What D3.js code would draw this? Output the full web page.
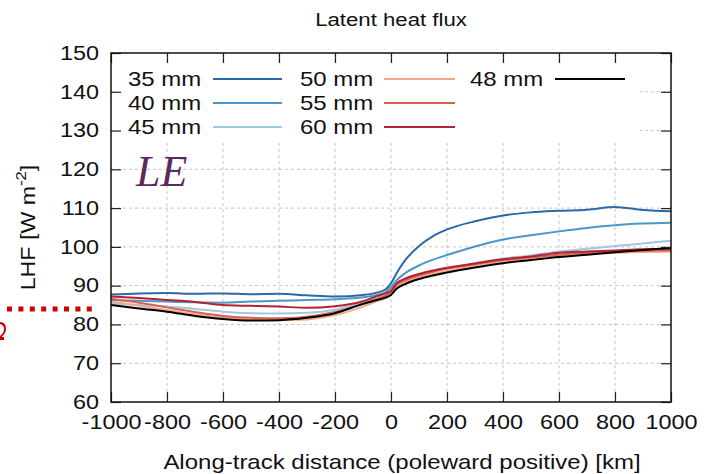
<!DOCTYPE html>
<html><head><meta charset="utf-8">
<script src="https://cdn.jsdelivr.net/npm/d3@7"></script>
<style>
html,body{margin:0;padding:0;background:#fff;}
</style></head>
<body>
<svg id="chart" width="706" height="474"></svg>
<script>
// ---- data ----
const distanceKm = [-1000,-900,-800,-700,-600,-500,-400,-300,-200,-100,-50,-20,0,20,50,100,150,200,300,400,500,600,700,800,900,1000];
const lhf35 = [87.7,88.0,88.1,87.9,88.0,87.8,87.9,87.5,87.2,87.6,88.2,89.0,90.6,93.2,96.5,100.2,102.8,104.5,106.6,108.1,108.9,109.3,109.6,110.3,109.5,109.2];
const lhf40 = [86.3,86.1,85.9,85.7,85.6,85.9,86.1,86.3,86.5,87.0,87.6,88.3,89.6,91.4,93.2,95.2,96.7,97.9,100.1,101.9,103.0,104.0,104.9,105.6,106.0,106.2];
const lhf45 = [85.4,85.0,84.6,84.0,83.3,82.9,82.8,83.0,83.8,85.6,86.7,87.5,88.6,90.0,91.2,92.6,93.6,94.4,95.8,97.0,97.8,98.8,99.5,100.2,100.9,101.6];
const lhf50 = [85.9,84.8,83.7,82.6,81.8,81.3,81.1,81.3,82.4,84.6,86.0,86.8,88.0,89.7,90.8,92.0,93.0,93.8,95.1,96.2,97.0,97.6,98.1,98.5,98.7,98.8];
const lhf55 = [86.6,85.6,84.4,83.2,82.2,81.7,81.6,82.0,83.2,85.3,86.6,87.4,88.4,90.2,91.4,92.6,93.6,94.4,95.5,96.6,97.3,98.0,98.5,98.9,99.0,99.1];
const lhf60 = [87.2,86.8,86.3,85.8,85.0,84.8,84.6,84.3,84.7,86.0,87.3,88.0,88.7,90.6,91.8,93.0,93.9,94.6,95.7,96.8,97.5,98.5,98.8,99.1,99.4,99.5];
const lhf48 = [85.0,84.1,83.3,82.2,81.4,81.0,81.1,81.7,82.9,85.3,86.3,86.9,87.6,89.2,90.4,91.7,92.6,93.4,94.7,95.8,96.6,97.4,98.0,98.6,99.2,99.7];
const seriesNames = ["35 mm","40 mm","45 mm","50 mm","55 mm","60 mm","48 mm"];
const seriesColors = ["#2b69a6","#4b97c9","#9dcae2","#f2a98a","#dc5f4f","#b52033","#000000"];
const xTicks = [-1000,-800,-600,-400,-200,0,200,400,600,800,1000];
const yTicks = [60,70,80,90,100,110,120,130,140,150];
const titleText = "Latent heat flux";
const xTitle = "Along-track distance (poleward positive) [km]";

const seriesValues = [lhf35,lhf40,lhf45,lhf50,lhf55,lhf60,lhf48];

// ---- layout ----
const SANS = '"Liberation Sans", Arial, sans-serif';
const SERIF = '"Liberation Serif", "DejaVu Serif", serif';
const svg = d3.select("#chart");
const L = 111, R = 671, T = 53, B = 402;
const SX = 1.2; // horizontal text stretch
const x = d3.scaleLinear().domain([-1000,1000]).range([L,R]);
const y = d3.scaleLinear().domain([60,150]).range([B,T]);

// grid
const grid = svg.append("g").attr("stroke","#c4c4c4").attr("stroke-width",1).attr("stroke-dasharray","3,3");
xTicks.slice(1,-1).forEach(t=>grid.append("line").attr("x1",x(t)).attr("x2",x(t)).attr("y1",T).attr("y2",B));
yTicks.slice(1,-1).forEach(t=>grid.append("line").attr("x1",L).attr("x2",R).attr("y1",y(t)).attr("y2",y(t)));

// lines
const line = d3.line().x((d,i)=>x(distanceKm[i])).y(d=>y(d)).curve(d3.curveMonotoneX);
seriesValues.forEach((vals,k)=>{
  svg.append("path").datum(vals).attr("d",line).attr("fill","none")
    .attr("stroke",seriesColors[k]).attr("stroke-width",2).attr("stroke-linejoin","round");
});

// legend background
svg.append("rect").attr("x",113).attr("y",64).attr("width",527).attr("height",76).attr("fill","#fff");

// legend
const legCols = [{tx:128, lx1:213, lx2:282},{tx:300, lx1:384, lx2:455},{tx:470, lx1:555, lx2:625}];
const legRows = [79,103,127];
const legendLayout = [[0,0],[0,1],[0,2],[1,0],[1,1],[1,2],[2,0]];
seriesNames.forEach((n,k)=>{
  const [c,r] = legendLayout[k];
  const col = legCols[c], ry = legRows[r];
  svg.append("text").attr("transform",`translate(${col.tx},${ry+7}) scale(${SX},1)`)
    .style("font-family",SANS).attr("font-size",20).attr("fill","#111").text(n);
  svg.append("line").attr("x1",col.lx1).attr("x2",col.lx2).attr("y1",ry).attr("y2",ry)
    .attr("stroke",seriesColors[k]).attr("stroke-width",2);
});

// axes
const fmt = d => String(d);
const ax = d3.axisBottom(x).tickValues(xTicks).tickSize(-10).tickPadding(13).tickFormat(fmt);
const gx = svg.append("g").attr("transform",`translate(0,${B})`).call(ax);
const ay = d3.axisLeft(y).tickValues(yTicks).tickSize(-10).tickPadding(10).tickFormat(fmt);
const gy = svg.append("g").attr("transform",`translate(${L},0)`).call(ay);
const at = d3.axisTop(x).tickValues(xTicks).tickSize(-10).tickFormat("");
const gt = svg.append("g").attr("transform",`translate(0,${T})`).call(at);
const ar = d3.axisRight(y).tickValues(yTicks).tickSize(-10).tickFormat("");
const gr = svg.append("g").attr("transform",`translate(${R},0)`).call(ar);
[gx,gy,gt,gr].forEach(g=>{
  g.select(".domain").remove();
  g.selectAll(".tick line").attr("stroke","#222").attr("stroke-width",1.2);
});
[gx,gy].forEach(g=>{
  g.attr("font-family",null).attr("font-size",null);
  g.selectAll("text").style("font-family",SANS).style("font-size","19.5px")
    .attr("fill","#111").attr("transform",`scale(${SX},1)`);
});

// frame
svg.append("rect").attr("x",L).attr("y",T).attr("width",R-L).attr("height",B-T)
  .attr("fill","none").attr("stroke","#111").attr("stroke-width",1.5);

// titles
svg.append("text").attr("transform",`translate(391,26) scale(${SX},1)`).attr("text-anchor","middle")
  .style("font-family",SANS).attr("font-size",18.5).attr("fill","#111").text(titleText);
svg.append("text").attr("transform",`translate(402,469) scale(${SX},1)`).attr("text-anchor","middle")
  .style("font-family",SANS).attr("font-size",20).attr("fill","#111").text(xTitle);
const yt = svg.append("text").attr("transform",`translate(35,227.5) rotate(-90) scale(1.19,1)`)
  .style("font-family",SANS).attr("text-anchor","middle").attr("font-size",19.5).attr("fill","#111");
yt.append("tspan").text("LHF [W m");
yt.append("tspan").attr("font-size",14).attr("dy",-9).text("-2");
yt.append("tspan").attr("dy",9).text("]");

// annotation LE
svg.append("text").attr("x",136).attr("y",186).style("font-family",SERIF)
  .style("font-style","italic").attr("font-size",44).attr("fill","#5a2a5e").text("LE");

// red dotted line at left edge and a cropped red glyph fragment
svg.append("line").attr("x1",7).attr("x2",95).attr("y1",309).attr("y2",309)
  .attr("stroke","#d00000").attr("stroke-width",5).attr("stroke-dasharray","5,6.4");
svg.append("path").attr("d","M0,324 Q4,325 4,329 Q4,333 0,336 L0,340 L4,340 L4,337 L1.5,337 Q6,333 6,329 Q6,322 0,322 Z")
  .attr("fill","#c80000");
</script>
</body></html>
